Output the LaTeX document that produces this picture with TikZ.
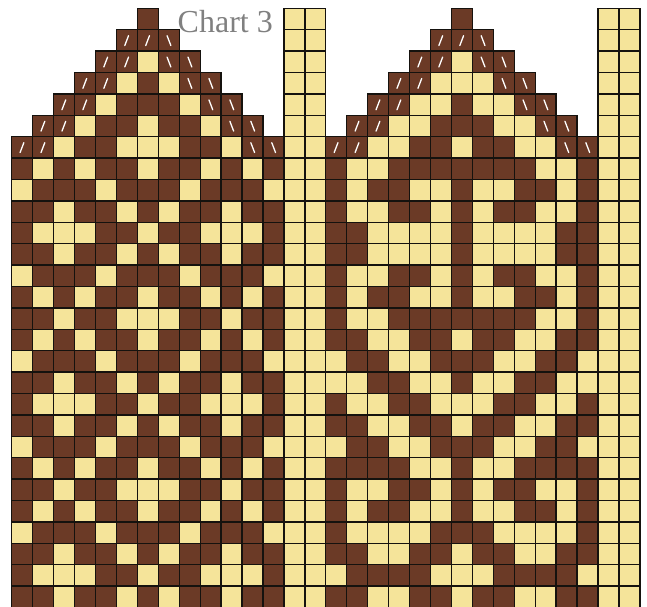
\documentclass[tikz,border=0pt]{standalone}
\usepackage{fontspec}
\setmainfont{Liberation Serif}
\definecolor{kdark}{HTML}{6B3A26}
\definecolor{kpale}{HTML}{F5E49A}
\definecolor{kline}{HTML}{15120E}
\definecolor{ktext}{HTML}{808080}
\tikzset{
  gridcell/.style={draw=kline,line width=1.3pt},
  darkcell/.style={gridcell,fill=kdark},
  palecell/.style={gridcell,fill=kpale},
  decline/.style={draw=white,line width=1.3pt,line cap=round},
  charttitle/.style={text=ktext,inner sep=0pt,anchor=base west,font=\fontsize{32}{32}\selectfont},
}
\newcommand{\krow}[3]{%
  \foreach \v [count=\c from #2] in {#3}{%
    \ifnum\v=1 \path[darkcell] (\c,#1) rectangle ++(1,1);\fi
    \ifnum\v=2 \path[palecell] (\c,#1) rectangle ++(1,1);\fi
    \ifnum\v=3 \path[darkcell] (\c,#1) rectangle ++(1,1);
      \draw[decline] (\c+0.4,#1+0.74) -- (\c+0.58,#1+0.28);\fi
    \ifnum\v=4 \path[darkcell] (\c,#1) rectangle ++(1,1);
      \draw[decline] (\c+0.42,#1+0.28) -- (\c+0.6,#1+0.74);\fi
  }}
\begin{document}
\begin{tikzpicture}
\useasboundingbox (0,0) rectangle (647pt,-606pt);
\clip (0,0) rectangle (647pt,-606pt);
\begin{scope}[x=20.94pt,y=-21.4pt,shift={(11.7pt,-8.3pt)}]
% plain columns
\foreach \r in {0,...,27}{\krow{\r}{13}{2,2}\krow{\r}{28}{2,2}}
% left chart
\krow{0}{0}{0,0,0,0,0,0,1,0,0,0,0,0,0}
\krow{1}{0}{0,0,0,0,0,3,3,4,0,0,0,0,0}
\krow{2}{0}{0,0,0,0,3,3,2,4,4,0,0,0,0}
\krow{3}{0}{0,0,0,3,3,2,1,2,4,4,0,0,0}
\krow{4}{0}{0,0,3,3,2,1,1,1,2,4,4,0,0}
\krow{5}{0}{0,3,3,2,1,1,2,1,1,2,4,4,0}
\krow{6}{0}{3,3,2,1,1,2,2,2,1,1,2,4,4}
\foreach \r in {7,15,23}{\krow{\r}{0}{1,2,1,2,1,1,2,1,1,2,1,2,1}}
\foreach \r in {8,16,24}{\krow{\r}{0}{2,1,1,1,2,1,1,1,2,1,1,1,2}}
\foreach \r in {9,17,25}{\krow{\r}{0}{1,1,2,1,1,2,1,2,1,1,2,1,1}}
\foreach \r in {10,18,26}{\krow{\r}{0}{1,2,2,2,1,1,2,1,1,2,2,2,1}}
\foreach \r in {11,19,27}{\krow{\r}{0}{1,1,2,1,1,2,1,2,1,1,2,1,1}}
\foreach \r in {12,20}{\krow{\r}{0}{2,1,1,1,2,1,1,1,2,1,1,1,2}}
\foreach \r in {13,21}{\krow{\r}{0}{1,2,1,2,1,1,2,1,1,2,1,2,1}}
\foreach \r in {14,22}{\krow{\r}{0}{1,1,2,1,1,2,2,2,1,1,2,1,1}}
% right chart
\krow{0}{15}{0,0,0,0,0,0,1,0,0,0,0,0,0}
\krow{1}{15}{0,0,0,0,0,3,3,4,0,0,0,0,0}
\krow{2}{15}{0,0,0,0,3,3,2,4,4,0,0,0,0}
\krow{3}{15}{0,0,0,3,3,2,2,2,4,4,0,0,0}
\krow{4}{15}{0,0,3,3,2,2,1,2,2,4,4,0,0}
\krow{5}{15}{0,3,3,2,2,1,1,1,2,2,4,4,0}
\krow{6}{15}{3,3,2,2,1,1,2,1,1,2,2,4,4}
\krow{7}{15}{1,2,2,1,1,1,1,1,1,1,2,2,1}
\krow{8}{15}{1,2,1,1,2,2,1,2,2,1,1,2,1}
\krow{9}{15}{1,2,2,1,1,2,1,2,1,1,2,2,1}
\krow{10}{15}{1,1,2,2,2,2,1,2,2,2,2,1,1}
\krow{11}{15}{1,1,2,2,2,2,1,2,2,2,2,1,1}
\krow{12}{15}{1,2,2,1,1,2,1,2,1,1,2,2,1}
\krow{13}{15}{1,2,1,1,2,2,1,2,2,1,1,2,1}
\krow{14}{15}{1,2,2,1,1,1,1,1,1,1,2,2,1}
\krow{15}{15}{1,1,2,2,1,1,2,1,1,2,2,1,1}
\krow{16}{15}{2,1,1,2,2,1,1,1,2,2,1,1,2}
\krow{17}{15}{2,2,1,1,2,2,1,2,2,1,1,2,2}
\krow{18}{15}{1,2,2,1,1,2,2,2,1,1,2,2,1}
\krow{19}{15}{1,1,2,2,1,1,2,1,1,2,2,1,1}
\krow{20}{15}{2,1,1,2,2,1,1,1,2,2,1,1,2}
\krow{21}{15}{1,1,1,1,2,2,1,2,2,1,1,1,1}
\krow{22}{15}{1,2,2,1,1,2,1,2,1,1,2,2,1}
\krow{23}{15}{1,2,1,1,2,2,1,2,2,1,1,2,1}
\krow{24}{15}{1,2,2,2,2,1,1,1,2,2,2,2,1}
\krow{25}{15}{1,1,2,2,1,1,2,1,1,2,2,1,1}
\krow{26}{15}{2,1,1,1,1,2,2,2,1,1,1,1,2}
\krow{27}{15}{1,1,2,2,1,1,2,1,1,2,2,1,1}
\end{scope}
\node[charttitle] (title) at (177.5pt,-32.8pt) {Chart 3};
\end{tikzpicture}
\end{document}
